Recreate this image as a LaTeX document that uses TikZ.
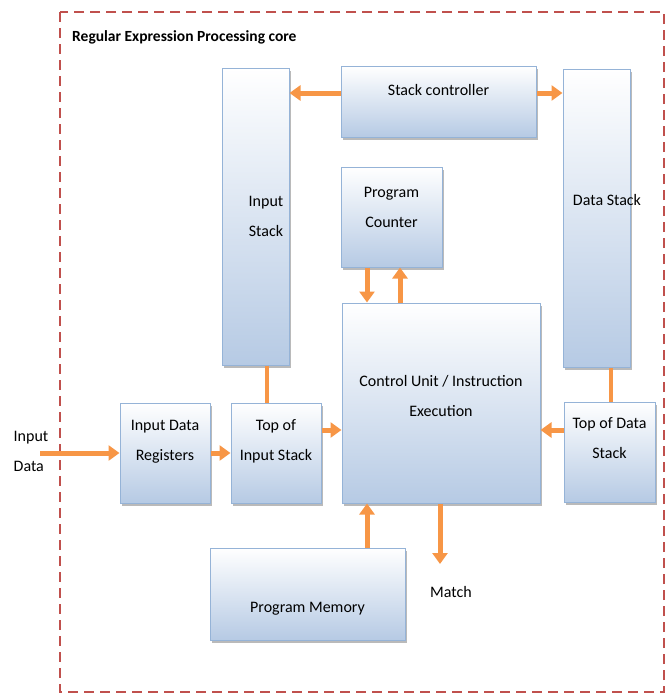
\documentclass[tikz,border=0pt]{standalone}
\usepackage{fontspec}
\setmainfont{Carlito}
\usetikzlibrary{arrows.meta,shadows}
\definecolor{boxborder}{RGB}{149,179,215}
\definecolor{boxbottom}{RGB}{182,202,228}
\definecolor{arrorange}{RGB}{247,150,70}
\definecolor{dashred}{RGB}{192,80,77}
\tikzset{
  box/.style={draw=boxborder, line width=1pt, top color=white, bottom color=boxbottom,
    drop shadow={shadow xshift=2pt, shadow yshift=-3pt, opacity=0.45, fill=gray!80!black}},
  txt/.style={font=\fontsize{16}{30}\selectfont, align=center, text=black, inner sep=0pt},
  arr/.style={draw=arrorange, line width=5pt, -{Triangle[length=11pt,width=15pt]}},
  conn/.style={draw=arrorange, line width=4pt},
}
\begin{document}
\begin{tikzpicture}[x=1pt,y=-1pt]
\useasboundingbox (0,0) rectangle (670,696);
% border
\draw[dashred, line width=2.5pt, dash pattern=on 10pt off 6pt] (60,12) rectangle (664,692);
\node[font=\fontsize{15.5}{18}\selectfont\bfseries, anchor=west, inner sep=0pt] (title) at (72,37) {Regular Expression Processing core};
% boxes
\node[box, minimum width=67pt, minimum height=297pt] (instack) at (255.5,216.5) {};
\node[box, minimum width=195pt, minimum height=71pt] (sc) at (438.5,101.5) {};
\node[box, minimum width=67pt, minimum height=298pt] (dstack) at (596.5,218) {};
\node[box, minimum width=101pt, minimum height=100pt] (pc) at (391.5,217) {};
\node[box, minimum width=198pt, minimum height=200pt] (cu) at (441,403) {};
\node[box, minimum width=90pt, minimum height=100pt] (idr) at (165,453) {};
\node[box, minimum width=90pt, minimum height=100pt] (tis) at (276,453) {};
\node[box, minimum width=91pt, minimum height=100pt] (tds) at (609.5,452) {};
\node[box, minimum width=195pt, minimum height=92pt] (pm) at (307.5,594) {};
% texts
\node[txt] (instackT) at (266,216) {Input\\Stack};
\node[txt] (scT) at (438.5,90) {Stack controller};
\node[txt] (dstackT) at (607,200) {Data Stack};
\node[txt] (pcT) at (391.5,207) {Program\\Counter};
\node[txt] (cuT) at (441,396) {Control Unit / Instruction\\Execution};
\node[txt] (idrT) at (165,442) {Input Data\\Registers};
\node[txt] (tisT) at (276,441) {Top of\\Input Stack};
\node[txt] (tdsT) at (609.5,438) {Top of Data\\Stack};
\node[txt] (pmT) at (307.5,609) {Program Memory};
\node[txt] (match) at (451,592) {Match};
\node[txt, align=left] (indata) at (31,451) {Input\\Data};
% helper coordinates
\coordinate (ya) at (0,93);
\coordinate (yb) at (0,430);
\coordinate (xa) at (367,0);
\coordinate (xb) at (400,0);
\coordinate (xc) at (440,0);
\coordinate (xd) at (267,0);
\coordinate (xe) at (611,0);
\coordinate (inStart) at (40,453);
\coordinate (matchEnd) at (440,564);
% connectors
\draw[arr] (sc.west |- ya) -- (instack.east |- ya);
\draw[arr] (sc.east |- ya) -- (dstack.west |- ya);
\draw[arr] (pc.south -| xa) -- (cu.north -| xa);
\draw[arr] (cu.north -| xb) -- (pc.south -| xb);
\draw[conn] (instack.south -| xd) -- (tis.north -| xd);
\draw[conn] (dstack.south -| xe) -- (tds.north -| xe);
\draw[arr] (inStart) -- (idr.west);
\draw[arr] (idr.east) -- (tis.west);
\draw[arr] (tis.east |- yb) -- (cu.west |- yb);
\draw[arr] (tds.west |- yb) -- (cu.east |- yb);
\draw[arr] (pm.north -| xa) -- (cu.south -| xa);
\draw[arr] (cu.south -| xc) -- (matchEnd);
\end{tikzpicture}
\end{document}
